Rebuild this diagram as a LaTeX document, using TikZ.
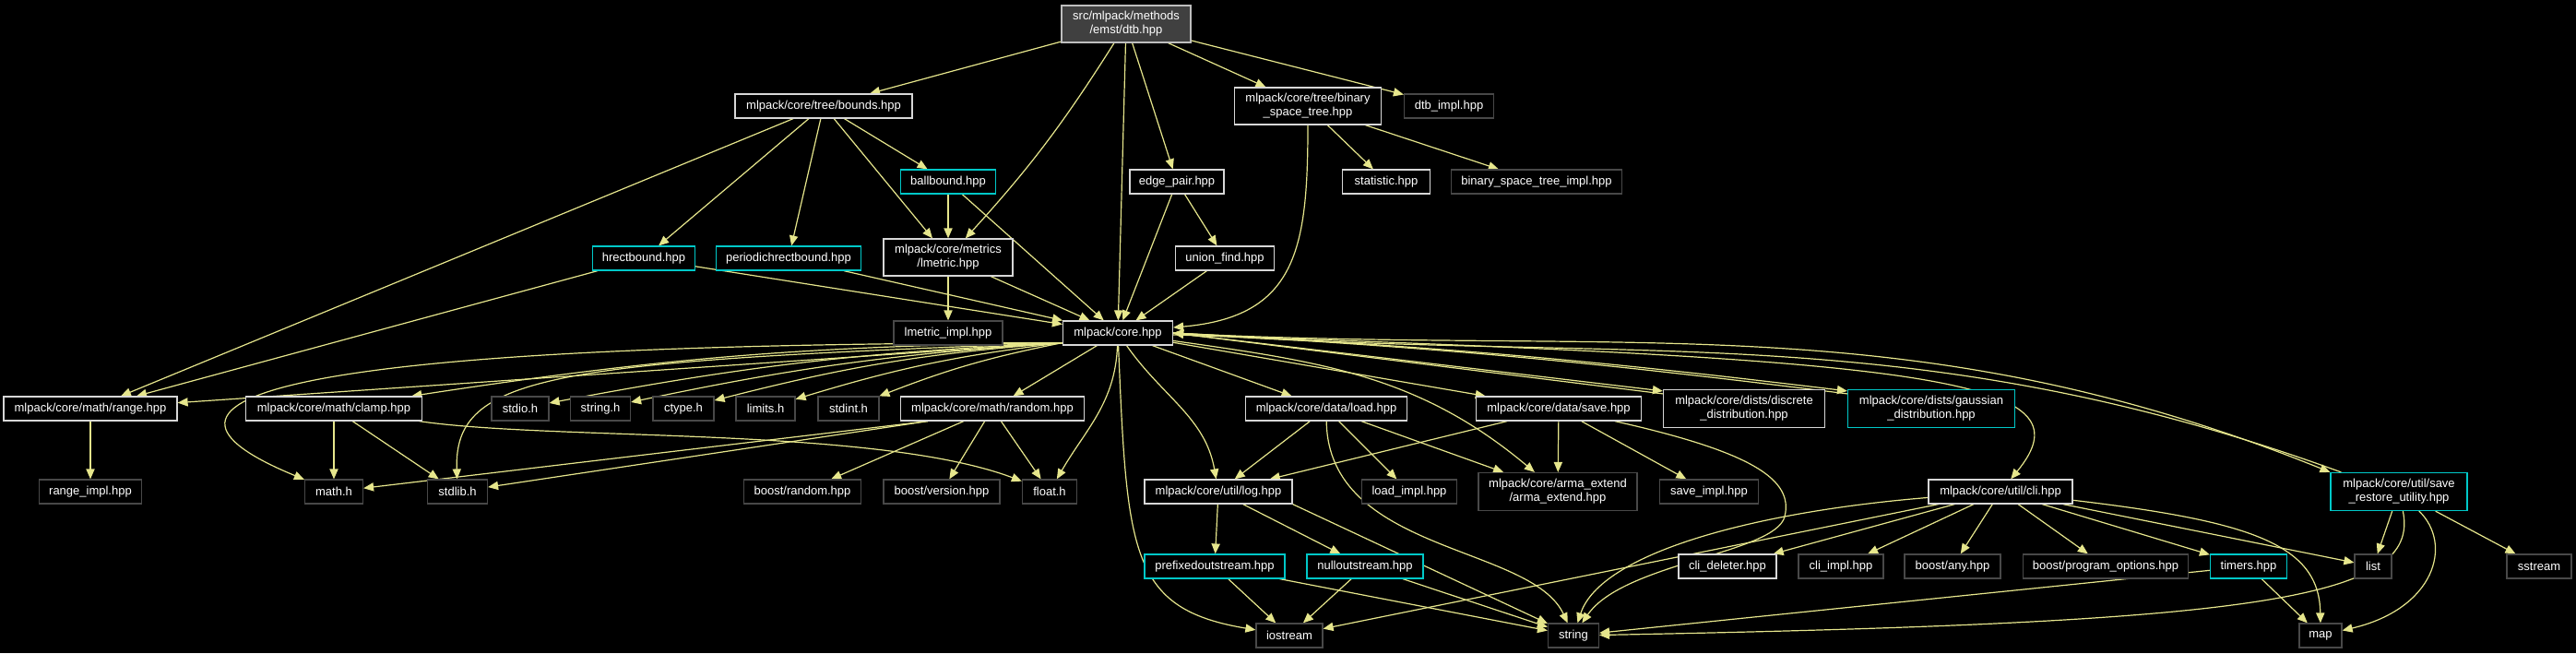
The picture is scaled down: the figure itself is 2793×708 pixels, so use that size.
\documentclass[tikz,border=0pt]{standalone}
\usepackage{fontspec}
\setmainfont{Liberation Sans}
\usetikzlibrary{arrows.meta,backgrounds}
\definecolor{incedge}{RGB}{230,230,140}
\definecolor{docline}{RGB}{215,215,215}
\definecolor{extline}{RGB}{72,72,72}
\definecolor{clsline}{RGB}{0,200,200}
\definecolor{rootfill}{RGB}{64,64,64}
\definecolor{rootline}{RGB}{190,190,190}

\begin{document}
\begin{tikzpicture}[
    x=0.5pt, y=-0.5pt,
    >={Triangle[length=5.5pt,width=4.6pt]},
    every node/.style={font=\fontsize{6.5}{7.4}\selectfont},
    docfile/.style={draw=docline, fill=black, text=white, rectangle, align=center, inner sep=0pt, minimum height=13pt, line width=0.6pt},
    extfile/.style={docfile, draw=extline},
    clsfile/.style={docfile, draw=clsline},
    rootfile/.style={docfile, draw=rootline, fill=rootfill},
    inc/.style={->, incedge, line width=0.6pt},
]
  \node[rootfile, minimum width=70pt, minimum height=20pt] (dtb) at (1221,26) {src/mlpack/methods\\/emst/dtb.hpp};
  \node[docfile, minimum width=96pt] (bounds) at (893,115) {mlpack/core/tree/bounds.hpp};
  \node[docfile, minimum width=79.5pt, minimum height=20pt] (bstree) at (1418,115) {mlpack/core/tree/binary\\\_space\_tree.hpp};
  \node[extfile, minimum width=48.5pt] (dtbimpl) at (1571,115) {dtb\_impl.hpp};
  \node[clsfile, minimum width=51.5pt] (ballbound) at (1028,197) {ballbound.hpp};
  \node[docfile, minimum width=51pt] (edgepair) at (1276,197) {edge\_pair.hpp};
  \node[docfile, minimum width=47.5pt] (statistic) at (1503,197) {statistic.hpp};
  \node[extfile, minimum width=92.5pt] (bstimpl) at (1666,197) {binary\_space\_tree\_impl.hpp};
  \node[clsfile, minimum width=55.5pt] (hrect) at (698,280) {hrectbound.hpp};
  \node[clsfile, minimum width=78.5pt] (periodic) at (855,280) {periodichrectbound.hpp};
  \node[docfile, minimum width=70pt, minimum height=20pt] (lmetric) at (1028,279) {mlpack/core/metrics\\/lmetric.hpp};
  \node[docfile, minimum width=53.5pt] (unionfind) at (1328,280) {union\_find.hpp};
  \node[extfile, minimum width=59pt] (lmetricimpl) at (1028,361) {lmetric\_impl.hpp};
  \node[docfile, minimum width=59.5pt] (core) at (1212,361) {mlpack/core.hpp};
  \node[docfile, minimum width=94pt] (range) at (98,443) {mlpack/core/math/range.hpp};
  \node[docfile, minimum width=95.5pt] (clamp) at (362,443) {mlpack/core/math/clamp.hpp};
  \node[extfile, minimum width=31pt] (stdio) at (564,443) {stdio.h};
  \node[extfile, minimum width=32.5pt] (stringh) at (651,443) {string.h};
  \node[extfile, minimum width=33pt] (ctype) at (741,443) {ctype.h};
  \node[extfile, minimum width=32pt] (limits) at (830,443) {limits.h};
  \node[extfile, minimum width=33pt] (stdint) at (920,443) {stdint.h};
  \node[docfile, minimum width=99.5pt] (random) at (1076,443) {mlpack/core/math/random.hpp};
  \node[docfile, minimum width=87.5pt] (load) at (1438,443) {mlpack/core/data/load.hpp};
  \node[docfile, minimum width=89.5pt] (save) at (1690,443) {mlpack/core/data/save.hpp};
  \node[docfile, minimum width=87.5pt, minimum height=20.5pt] (discrete) at (1891,443) {mlpack/core/dists/discrete\\\_distribution.hpp};
  \node[clsfile, minimum width=90.5pt, minimum height=20.5pt] (gaussian) at (2094,443) {mlpack/core/dists/gaussian\\\_distribution.hpp};
  \node[extfile, minimum width=55.5pt] (rangeimpl) at (98,533) {range\_impl.hpp};
  \node[extfile, minimum width=31.5pt] (math) at (362,533) {math.h};
  \node[extfile, minimum width=32.5pt] (stdlib) at (496,533) {stdlib.h};
  \node[extfile, minimum width=63.5pt] (boostrandom) at (870,533) {boost/random.hpp};
  \node[extfile, minimum width=63pt] (boostversion) at (1021,533) {boost/version.hpp};
  \node[extfile, minimum width=29.5pt] (float) at (1138,533) {float.h};
  \node[docfile, minimum width=80pt] (log) at (1321,533) {mlpack/core/util/log.hpp};
  \node[extfile, minimum width=51.5pt] (loadimpl) at (1528,533) {load\_impl.hpp};
  \node[extfile, minimum width=86pt, minimum height=20.5pt] (arma) at (1689,533) {mlpack/core/arma\_extend\\/arma\_extend.hpp};
  \node[extfile, minimum width=53.5pt] (saveimpl) at (1853,533) {save\_impl.hpp};
  \node[docfile, minimum width=78pt] (cli) at (2169,533) {mlpack/core/util/cli.hpp};
  \node[clsfile, minimum width=74pt, minimum height=20.5pt] (saverestore) at (2601,533) {mlpack/core/util/save\\\_restore\_utility.hpp};
  \node[clsfile, minimum width=76pt] (prefixed) at (1317,614) {prefixedoutstream.hpp};
  \node[clsfile, minimum width=63pt] (nullout) at (1480,614) {nulloutstream.hpp};
  \node[docfile, minimum width=53pt] (clideleter) at (1873,614) {cli\_deleter.hpp};
  \node[extfile, minimum width=46pt] (cliimpl) at (1996,614) {cli\_impl.hpp};
  \node[extfile, minimum width=52pt] (boostany) at (2117,614) {boost/any.hpp};
  \node[extfile, minimum width=89.5pt] (progopts) at (2283,614) {boost/program\_options.hpp};
  \node[clsfile, minimum width=41.5pt] (timers) at (2438,614) {timers.hpp};
  \node[extfile, minimum width=20pt] (list) at (2573,614) {list};
  \node[extfile, minimum width=35pt] (sstream) at (2753,614) {sstream};
  \node[extfile, minimum width=36pt] (iostream) at (1398,689) {iostream};
  \node[extfile, minimum width=27.5pt] (string) at (1706,689) {string};
  \node[extfile, minimum width=23pt] (map) at (2516,689) {map};
  \coordinate (coreleft) at ([yshift=1.5pt]core.south west);
  \begin{pgfonlayer}{background}
  \fill[black] (0,0) rectangle (2793,708);
  \draw[inc] (dtb) -- (bounds);
  \draw[inc] (dtb) to[bend left=5] (lmetric);
  \draw[inc] (dtb) -- (core);
  \draw[inc] (dtb) -- (edgepair);
  \draw[inc] (dtb) -- (bstree);
  \draw[inc] (dtb) -- (dtbimpl);
  \draw[inc] (bounds) -- (range);
  \draw[inc] (bounds) -- (hrect);
  \draw[inc] (bounds) -- (periodic);
  \draw[inc] (bounds) -- (lmetric);
  \draw[inc] (bounds) -- (ballbound);
  \draw[inc] (bstree) to[out=-90,in=5,looseness=1.3] ([yshift=3pt]core.east);
  \draw[inc] (bstree) -- (statistic);
  \draw[inc] (bstree) -- (bstimpl);
  \draw[inc] (ballbound) -- (lmetric);
  \draw[inc] (ballbound) -- (core);
  \draw[inc] (edgepair) -- (unionfind);
  \draw[inc] (edgepair) -- (core);
  \draw[inc] (hrect) -- (core);
  \draw[inc] (hrect) -- (range);
  \draw[inc] (periodic) -- (core);
  \draw[inc] (lmetric) -- (lmetricimpl);
  \draw[inc] (lmetric) -- (core);
  \draw[inc] (unionfind) -- (core);
  \draw[inc] (coreleft) -- (range);
  \draw[inc] (coreleft) to[bend right=4] (clamp);
  \draw[inc] (coreleft) .. controls (350,372) and (100,425) .. (math);
  \draw[inc] (coreleft) .. controls (600,392) and (492,405) .. (stdlib);
  \draw[inc] (coreleft) to[bend right=4] (stdio);
  \draw[inc] (coreleft) to[bend right=4] (stringh);
  \draw[inc] (coreleft) to[bend right=5] (ctype);
  \draw[inc] (coreleft) to[bend right=5] (limits);
  \draw[inc] (coreleft) to[bend right=5] (stdint);
  \draw[inc] (core) -- (random);
  \draw[inc] (core) to[out=-92,in=60] (float);
  \draw[inc] (core) .. controls (1222,600) and (1225,660) .. (iostream);
  \draw[inc] (core) to[out=-55,in=100] (log);
  \draw[inc] (core) -- (load);
  \draw[inc] (core) -- (save);
  \draw[inc] (core) to[out=-8,in=140] (arma);
  \draw[inc] (core.east) -- ([yshift=-1pt]discrete.north west);
  \draw[inc] ([yshift=-2.5pt]discrete.north west) -- (core.east);
  \draw[inc] (core.east) to[bend left=2] ([yshift=-1pt]gaussian.north west);
  \draw[inc] ([yshift=-2.5pt]gaussian.north west) to[bend right=2] (core.east);
  \draw[inc] (core) .. controls (2100,390) and (2270,410) .. (cli);
  \draw[inc] (core.east) to[out=-3,in=158] (saverestore.north west);
  \draw[inc] ([xshift=6pt]saverestore.north west) to[out=160,in=-4] (core.east);
  \draw[inc] (range) -- (rangeimpl);
  \draw[inc] (clamp) -- (math);
  \draw[inc] (clamp) -- (stdlib);
  \draw[inc] (clamp) .. controls (600,478) and (950,462) .. (float);
  \draw[inc] (random.191) -- (math);
  \draw[inc] (random.191) -- (stdlib);
  \draw[inc] (random) -- (boostrandom);
  \draw[inc] (random) -- (boostversion);
  \draw[inc] (random) -- (float);
  \draw[inc] (load) -- (log);
  \draw[inc] (load) -- (loadimpl);
  \draw[inc] (load) -- (arma);
  \draw[inc] (load) .. controls (1440,600) and (1660,590) .. (string);
  \draw[inc] (save) -- (log);
  \draw[inc] (save) -- (arma);
  \draw[inc] (save) -- (saveimpl);
  \draw[inc] (save) .. controls (1900,490) and (1945,520) .. (1935,560) .. controls (1925,600) and (1760,610) .. (string);
  \draw[inc] (log) -- (prefixed);
  \draw[inc] (log) -- (nullout);
  \draw[inc] (log.south east) -- (string);
  \draw[inc] (prefixed) -- (iostream);
  \draw[inc] (prefixed) -- (string);
  \draw[inc] (nullout) -- (iostream);
  \draw[inc] (nullout) -- (string);
  \draw[inc] (cli) -- (iostream);
  \draw[inc] (cli) .. controls (1900,555) and (1735,600) .. (string);
  \draw[inc] (cli) -- (clideleter);
  \draw[inc] (cli) -- (cliimpl);
  \draw[inc] (cli) -- (boostany);
  \draw[inc] (cli) -- (progopts);
  \draw[inc] (cli) -- (timers);
  \draw[inc] (cli) -- (list);
  \draw[inc] (cli) .. controls (2440,565) and (2515,590) .. (map);
  \draw[inc] (timers) -- (string);
  \draw[inc] (timers) -- (map);
  \draw[inc] (saverestore) -- (list);
  \draw[inc] (saverestore) .. controls (2660,590) and (2640,660) .. (map);
  \draw[inc] (saverestore) -- (sstream);
  \draw[inc] (saverestore) .. controls (2625,650) and (2450,675) .. (string);
  \end{pgfonlayer}
\end{tikzpicture}
\end{document}
